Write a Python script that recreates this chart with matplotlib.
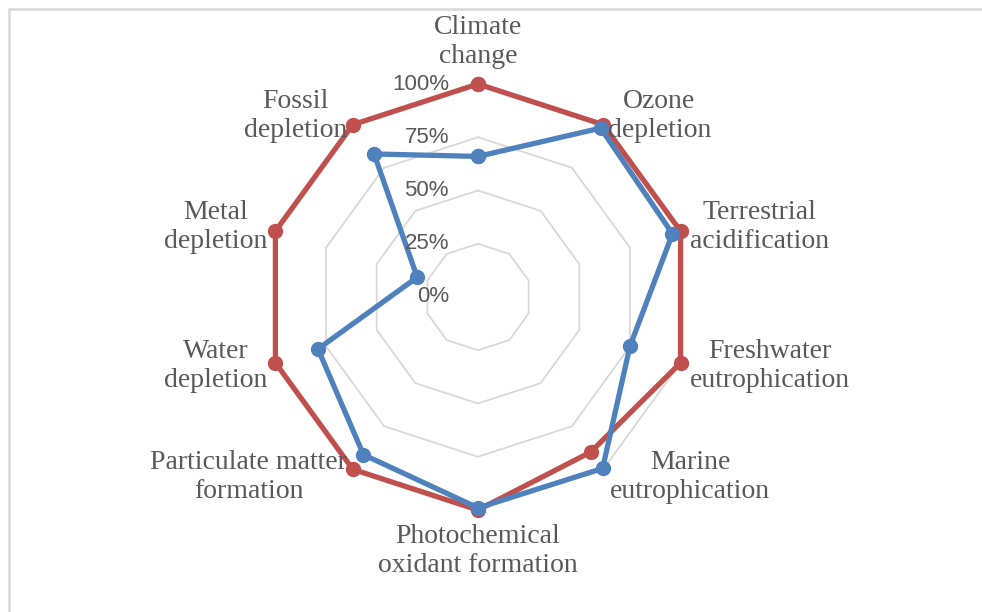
import numpy as np
import matplotlib
matplotlib.use('Agg')
import matplotlib.pyplot as plt
from matplotlib.patches import Rectangle

categories = ["Climate\nchange", "Ozone\ndepletion", "Terrestrial\nacidification",
              "Freshwater\neutrophication", "Marine\neutrophication",
              "Photochemical\noxidant formation", "Particulate matter\nformation",
              "Water\ndepletion", "Metal\ndepletion", "Fossil\ndepletion"]
blue_values = [0.66, 0.98, 0.96, 0.75, 0.995, 0.99, 0.915, 0.79, 0.30, 0.83]
red_values = [1.00, 1.00, 1.00, 1.00, 0.90, 1.00, 1.00, 1.00, 1.00, 1.00]
ring_values = [0.25, 0.5, 0.75, 1.0]
ring_labels = ["0%", "25%", "50%", "75%", "100%"]

# label offsets (pixels) from the 100% point of each spoke
label_offsets = [(0, 42), (56, 9), (79, 4), (89, -3), (87, -8),
                 (0, -41), (-104, -8), (-60, -3), (-60, 4), (-57, 9)]

BLUE = "#4F81BD"
RED = "#C0504D"
GRID = "#D9D9D9"
TEXT = "#595959"

fig = plt.figure(figsize=(9.82, 6.12), dpi=100)

# light frame around the chart area
fig.patches.append(Rectangle((9 / 982, -0.1), 1.2, 1 - 9 / 612 + 0.1, transform=fig.transFigure,
                             fill=False, edgecolor=GRID, linewidth=1.8))

cx, cy, rad = 478 / 982, 1 - 297 / 612, 213
ax = fig.add_axes([cx - rad / 982, cy - rad / 612, 2 * rad / 982, 2 * rad / 612], projection='polar')
ax.set_theta_zero_location('N')
ax.set_theta_direction(-1)
ax.set_ylim(0, 1)
ax.set_xticks([])
ax.set_yticks([])
ax.grid(False)
ax.spines['polar'].set_visible(False)
ax.patch.set_alpha(0)

n = len(categories)
theta = np.linspace(0, 2 * np.pi, n, endpoint=False)
theta_c = np.append(theta, theta[0])

for r in ring_values:
    ax.plot(theta_c, [r] * (n + 1), color=GRID, linewidth=1.3, zorder=1)

ax.plot(theta_c, red_values + red_values[:1], color=RED, linewidth=3.8, marker='o',
        markersize=10, zorder=3, clip_on=False)
ax.plot(theta_c, blue_values + blue_values[:1], color=BLUE, linewidth=3.8, marker='o',
        markersize=10, zorder=4, clip_on=False)

# radial tick labels on the top spoke
for i, lab in enumerate(ring_labels):
    ax.annotate(lab, xy=(0, i * 0.25), xytext=(-29 * 0.72, 0), textcoords='offset points',
                ha='right', va='center', fontsize=16, color=TEXT,
                family='Liberation Sans', zorder=5, annotation_clip=False)

for t, lab, (dx, dy) in zip(theta, categories, label_offsets):
    ax.annotate(lab, xy=(t, 1.0), xytext=(dx * 0.72, dy * 0.72), textcoords='offset points',
                ha='center', va='center', fontsize=20, color=TEXT, family='Liberation Serif',
                linespacing=1.2, zorder=6, annotation_clip=False)

fig.savefig("out.png", dpi=100)
